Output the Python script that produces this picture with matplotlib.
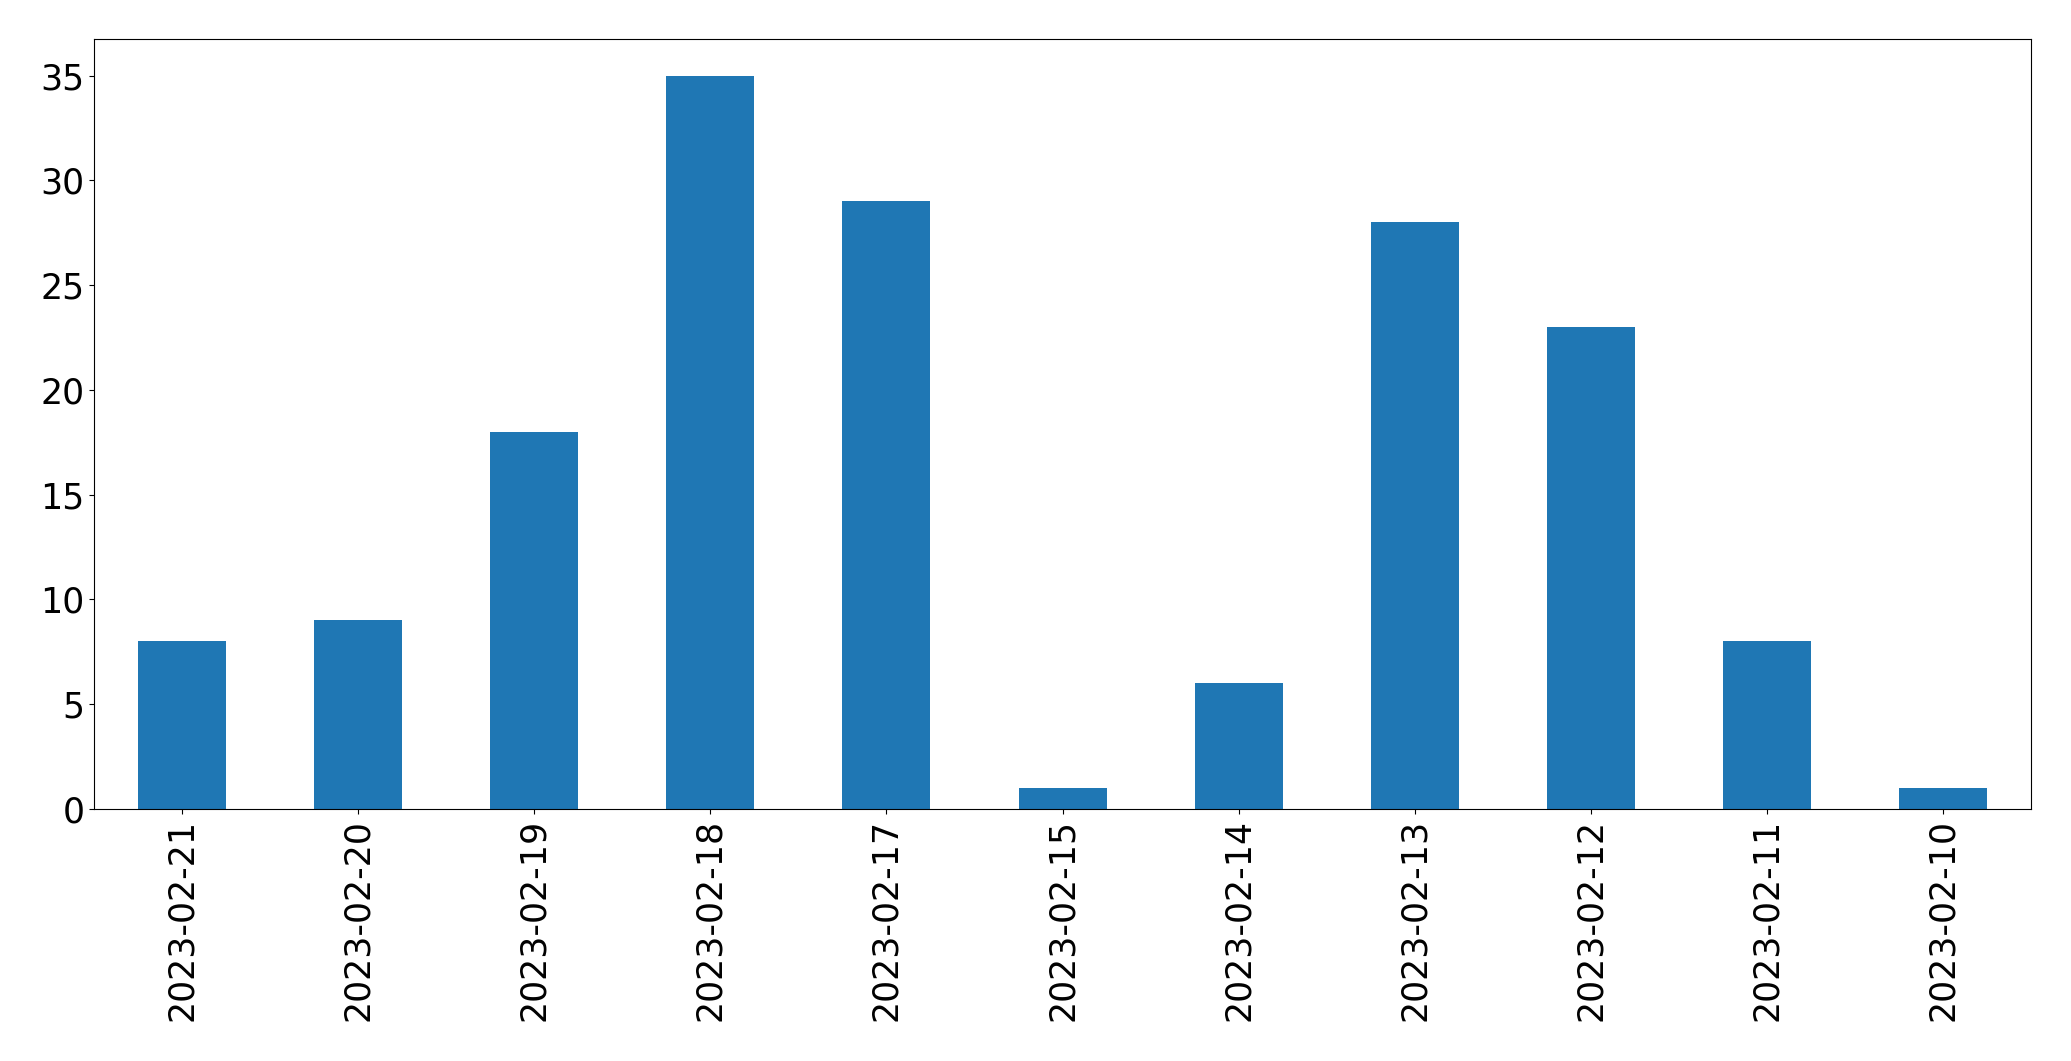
import matplotlib
matplotlib.use("Agg")
import matplotlib.pyplot as plt

dates = ["2023-02-21", "2023-02-20", "2023-02-19", "2023-02-18", "2023-02-17", "2023-02-15",
         "2023-02-14", "2023-02-13", "2023-02-12", "2023-02-11", "2023-02-10"]
counts = [8, 9, 18, 35, 29, 1, 6, 28, 23, 8, 1]

fig, ax = plt.subplots(figsize=(20.71, 10.61), dpi=100)
fig.subplots_adjust(left=0.0454, right=0.9807, top=0.9632, bottom=0.2375)
x = range(len(dates))
ax.bar(x, counts, width=0.5, color="#1f77b4")
ax.set_xlim(-0.5, len(dates) - 0.5)
ax.set_xticks(list(x))
ax.set_xticklabels(dates, rotation=90)
ax.tick_params(labelsize=25)
fig.savefig("out.png", dpi=100)
